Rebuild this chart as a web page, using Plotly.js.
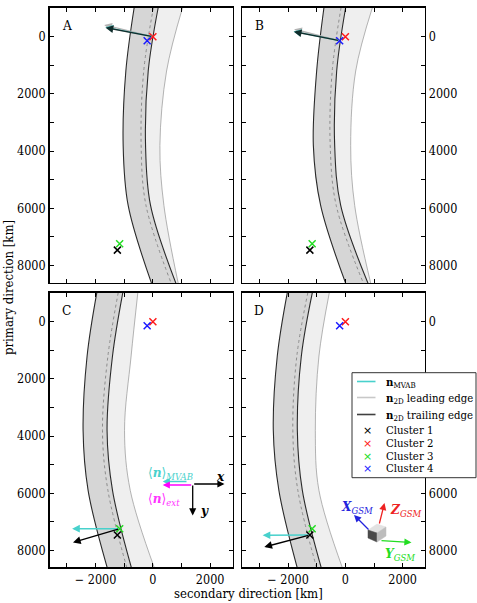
<!DOCTYPE html>
<html>
<head>
<meta charset="utf-8">
<script src="https://cdn.plot.ly/plotly-3.0.1.min.js"></script>
<style>
html, body { margin: 0; padding: 0; background: #fff; }
#chart { width: 477px; height: 603px; }
</style>
</head>
<body>
<div id="chart"></div>
<script>
// ---- data (km) ----
const panelLabels = ['A', 'B', 'C', 'D'];

// primary-direction levels at which the boundary arcs are sampled
const bandY = [-1020, 1200, 3800, 5900, 8620];

// secondary-direction position of each arc, one row per panel
const trailLeft  = [[-653, -944, -1038, -863, -47],
                    [-748, -1003, -1119, -864, 10],
                    [-1958, -2297, -2437, -2262, -1590],
                    [-2028, -2378, -2517, -2322, -1678]];
const trailRight = [[186, -163, -256, -82, 804],
                    [10, -304, -374, -164, 790],
                    [-1050, -1410, -1600, -1410, -745],
                    [-1154, -1538, -1678, -1503, -839]];
const trailMid   = [[20, -320, -410, -240, 640],
                    [-150, -460, -530, -320, 630],
                    [-1210, -1570, -1760, -1570, -905],
                    [-1310, -1695, -1835, -1660, -1000]];
const leadRight  = [[1038, 478, 245, 385, 885],
                    [944, 360, 185, 325, 885],
                    [-525, -760, -990, -790, 55],
                    [-560, -923, -1049, -923, -100]];

// spacecraft positions
const clusterNames  = ['Cluster 1', 'Cluster 2', 'Cluster 3', 'Cluster 4'];
const clusterColors = ['#000000', '#ff1a1a', '#22dd22', '#1a1aff'];
const clusterX = [-1240, 0, -1160, -200];
const clusterY = [7460, 0, 7240, 140];

// normal vectors (km), drawn from the spacecraft given in normalOrigin (1-based)
const normalOrigin = [2, 4, 3, 1];
const mvabVec  = [[-1660, -330], [-1610, -320], [-1660, 0], [-1650, 10]];
const leadVec  = [[-1700, -410], [-1590, -400], null, null];
const trailVec = [[-1650, -315], [-1600, -315], [-1630, 480], [-1590, 420]];

// axis ticks
const xTickVals = [-2000, 0, 2000];
const xTickText = ['\u2212 2000', '0', '2000'];
const xMinorVals = [-3000, -1000, 1000];
const yTickVals = [0, 2000, 4000, 6000, 8000];
const yTickText = ['0', '2000', '4000', '6000', '8000'];
const yMinorVals = [1000, 3000, 5000, 7000];

// ---- styling ----
const W = 477, H = 603;
const SERIF = '"DejaVu Serif Condensed", "DejaVu Serif", serif';
const DARK_FILL = '#d6d6d6';
const LIGHT_FILL = '#efefef';
const EDGE = '#2a2a2a';
const MVAB_COLOR = '#48d1cc';
const LEAD_COLOR = '#b4b4b4';
const TRAIL_COLOR = '#000000';

const px = v => v / W;
const py = v => 1 - v / H;

const colDomains = [[49.5, 232.5], [242, 425]];
const rowDomains = [[7.5, 283], [292.7, 567.3]];
const xRange = [-3610, 2780];
const yRanges = [[8610, -1020], [8590, -1015]];

const minorTicks = vals => ({
  tickmode: 'array', tickvals: vals, ticks: 'inside',
  ticklen: 4, tickwidth: 1, tickcolor: '#000', showgrid: false
});

const traces = [];
const layout = {
  width: W, height: H,
  margin: {l: 0, r: 0, t: 0, b: 0},
  paper_bgcolor: '#fff', plot_bgcolor: '#fff',
  showlegend: false,
  font: {family: SERIF, size: 12.5, color: '#000'},
  annotations: [],
  shapes: []
};

panelLabels.forEach((lab, i) => {
  const col = i % 2, row = Math.floor(i / 2);
  const sfx = i === 0 ? '' : String(i + 1);
  const xa = 'x' + sfx, ya = 'y' + sfx;

  layout['xaxis' + sfx] = {
    domain: [px(colDomains[col][0]), px(colDomains[col][1])],
    anchor: ya, range: xRange,
    showgrid: false, zeroline: false,
    showline: true, linecolor: '#000', linewidth: 1.3, mirror: 'ticks',
    ticks: 'inside', ticklen: 4, tickwidth: 1, tickcolor: '#000',
    tickmode: 'array', tickvals: xTickVals, ticktext: xTickText,
    minor: minorTicks(xMinorVals),
    showticklabels: row === 1,
    tickfont: {family: SERIF, size: 12.5, color: '#000'}
  };
  layout['yaxis' + sfx] = {
    domain: [py(rowDomains[row][1]), py(rowDomains[row][0])],
    anchor: xa, range: yRanges[row],
    side: col === 0 ? 'left' : 'right',
    showgrid: false, zeroline: false,
    showline: true, linecolor: '#000', linewidth: 1.3, mirror: 'ticks',
    ticks: 'inside', ticklen: 4, tickwidth: 1, tickcolor: '#000',
    tickmode: 'array', tickvals: yTickVals, ticktext: yTickText,
    minor: minorTicks(yMinorVals),
    tickfont: {family: SERIF, size: 12.5, color: '#000'}
  };

  const base = {xaxis: xa, yaxis: ya, mode: 'lines', hoverinfo: 'skip'};
  // trailing-edge band
  traces.push(Object.assign({}, base, {
    x: trailLeft[i], y: bandY,
    line: {color: EDGE, width: 1.1, shape: 'spline'}
  }));
  traces.push(Object.assign({}, base, {
    x: trailRight[i], y: bandY, fill: 'tonextx', fillcolor: DARK_FILL,
    line: {color: EDGE, width: 1.1, shape: 'spline'}
  }));
  // leading-edge band
  traces.push(Object.assign({}, base, {
    x: leadRight[i], y: bandY, fill: 'tonextx', fillcolor: LIGHT_FILL,
    line: {color: '#a0a0a0', width: 0.8, shape: 'spline'}
  }));
  // centre of the trailing band
  traces.push(Object.assign({}, base, {
    x: trailMid[i], y: bandY,
    line: {color: '#8c8c8c', width: 1, dash: 'dot', shape: 'spline'}
  }));

  // normals
  const o = normalOrigin[i] - 1;
  const ox = clusterX[o], oy = clusterY[o];
  const arrow = (vec, color, width, opacity) => {
    if (!vec) return;
    layout.annotations.push({
      xref: xa, yref: ya, axref: xa, ayref: ya,
      x: ox + vec[0], y: oy + vec[1], ax: ox, ay: oy,
      text: '', showarrow: true, arrowhead: 2, arrowsize: 1.1,
      arrowwidth: width, arrowcolor: color, standoff: 0, opacity: opacity
    });
  };
  arrow(leadVec[i], LEAD_COLOR, 1.4, 1);
  arrow(mvabVec[i], MVAB_COLOR, 1.4, 1);
  arrow(trailVec[i], TRAIL_COLOR, 1.4, i < 2 ? 0.78 : 1);

  // spacecraft
  clusterNames.forEach((nm, k) => {
    traces.push({
      xaxis: xa, yaxis: ya, mode: 'markers', hoverinfo: 'skip',
      x: [clusterX[k]], y: [clusterY[k]], name: nm,
      marker: {symbol: 'x-thin', size: 7, line: {width: 1.5, color: clusterColors[k]}}
    });
  });

  // panel letter
  layout.annotations.push({
    xref: 'paper', yref: 'paper',
    x: px(colDomains[col][0] + 17), y: py(rowDomains[row][0] + 17.5),
    xanchor: 'center', yanchor: 'middle', showarrow: false,
    text: lab, font: {family: SERIF, size: 13.5, color: '#000'}
  });
});

// axis titles
layout.annotations.push({
  xref: 'paper', yref: 'paper', x: px(8), y: py(288),
  text: 'primary direction [km]', textangle: -90, showarrow: false,
  xanchor: 'center', yanchor: 'middle', font: {family: SERIF, size: 13, color: '#000'}
});
layout.annotations.push({
  xref: 'paper', yref: 'paper', x: px(248.5), y: py(593),
  text: 'secondary direction [km]', showarrow: false,
  xanchor: 'center', yanchor: 'middle', font: {family: SERIF, size: 13, color: '#000'}
});

// ---- key (panel D) ----
layout.shapes.push({
  type: 'rect', xref: 'paper', yref: 'paper', layer: 'above',
  x0: px(352), x1: px(476), y0: py(477.7), y1: py(372.7),
  line: {color: '#333', width: 1}, fillcolor: '#fff'
});
const keyLines = [
  {y: 381.5, color: MVAB_COLOR, text: '<b>n</b><sub>MVAB</sub>'},
  {y: 397.5, color: '#c8c8c8', text: '<b>n</b><sub>2D</sub> leading edge'},
  {y: 414.5, color: '#404040', text: '<b>n</b><sub>2D</sub> trailing edge'}
];
keyLines.forEach(k => {
  layout.shapes.push({
    type: 'line', xref: 'paper', yref: 'paper', layer: 'above',
    x0: px(357), x1: px(375.5), y0: py(k.y), y1: py(k.y),
    line: {color: k.color, width: 1.6}
  });
  layout.annotations.push({
    xref: 'paper', yref: 'paper', x: px(384), y: py(k.y + 1),
    xanchor: 'left', yanchor: 'middle', showarrow: false,
    text: k.text, font: {family: SERIF, size: 11.3, color: '#000'}
  });
});
const keyRowsY = [430.7, 443.3, 456, 468.7];
clusterNames.forEach((nm, k) => {
  layout.annotations.push({
    xref: 'paper', yref: 'paper', x: px(367), y: py(keyRowsY[k]),
    xanchor: 'center', yanchor: 'middle', showarrow: false,
    text: '\u00d7', font: {family: 'DejaVu Sans', size: 11, color: clusterColors[k]}
  });
  layout.annotations.push({
    xref: 'paper', yref: 'paper', x: px(384), y: py(keyRowsY[k]),
    xanchor: 'left', yanchor: 'middle', showarrow: false,
    text: nm, font: {family: SERIF, size: 11.3, color: '#000'}
  });
});

// ---- local frame glyph (panel C) ----
const glyphArrow = (hx, hy, tx, ty, color) => ({
  xref: 'paper', yref: 'paper', x: px(hx), y: py(hy),
  ax: tx - hx, ay: ty - hy, axref: 'pixel', ayref: 'pixel',
  text: '', showarrow: true, arrowhead: 2, arrowsize: 1.1,
  arrowwidth: 1.3, arrowcolor: color, standoff: 0
});
layout.annotations.push(glyphArrow(162.7, 481.5, 188, 481.5, MVAB_COLOR));
layout.annotations.push(glyphArrow(162.7, 485, 192.7, 485, '#ff00ff'));
layout.annotations.push(glyphArrow(224.5, 484, 192.7, 484, '#000'));
layout.annotations.push(glyphArrow(192.7, 515.5, 192.7, 484, '#000'));
const glyphText = (x, y, text, color, size) => ({
  xref: 'paper', yref: 'paper', x: px(x), y: py(y),
  xanchor: 'left', yanchor: 'middle', showarrow: false,
  text: text, font: {family: SERIF, size: size, color: color}
});
layout.annotations.push(glyphText(145.5, 473, '\u27e8<b><i>n</i></b>\u27e9<sub><i>MVAB</i></sub>', MVAB_COLOR, 13.5));
layout.annotations.push(glyphText(145.5, 498.5, '\u27e8<b><i>n</i></b>\u27e9<sub><i>ext</i></sub>', '#ff33ff', 13.5));
layout.annotations.push(glyphText(214, 476, '<b><i>x</i></b>', '#000', 13.5));
layout.annotations.push(glyphText(198, 509.5, '<b><i>y</i></b>', '#000', 13.5));

// ---- GSM triad (panel D) ----
const poly = (pts, fill) => ({
  type: 'path', xref: 'paper', yref: 'paper', layer: 'above',
  path: 'M ' + pts.map(p => px(p[0]) + ',' + py(p[1])).join(' L ') + ' Z',
  fillcolor: fill, line: {color: fill, width: 0.5}
});
layout.shapes.push(poly([[368, 530], [377, 524], [386, 527], [377, 533]], '#e2e2e2'));
layout.shapes.push(poly([[368, 530], [377, 533], [377, 542], [368, 538]], '#4a4a4a'));
layout.shapes.push(poly([[377, 533], [386, 527], [386, 536], [377, 542]], '#bdbdbd'));
layout.annotations.push(glyphArrow(354, 515, 370, 531, '#2222dd'));
layout.annotations.push(glyphArrow(384.5, 503, 379, 525, '#ee2222'));
layout.annotations.push(glyphArrow(411.5, 542.5, 380, 540.5, '#22dd22'));
layout.annotations.push(glyphText(339, 507, '<b><i>X</i></b><sub><i>GSM</i></sub>', '#2222dd', 13.5));
layout.annotations.push(glyphText(388, 510, '<b><i>Z</i></b><sub><i>GSM</i></sub>', '#ee2222', 13.5));
layout.annotations.push(glyphText(383, 553.5, '<b><i>Y</i></b><sub><i>GSM</i></sub>', '#22dd22', 13.5));

Plotly.newPlot('chart', traces, layout, {staticPlot: true, displayModeBar: false});
</script>
</body>
</html>
